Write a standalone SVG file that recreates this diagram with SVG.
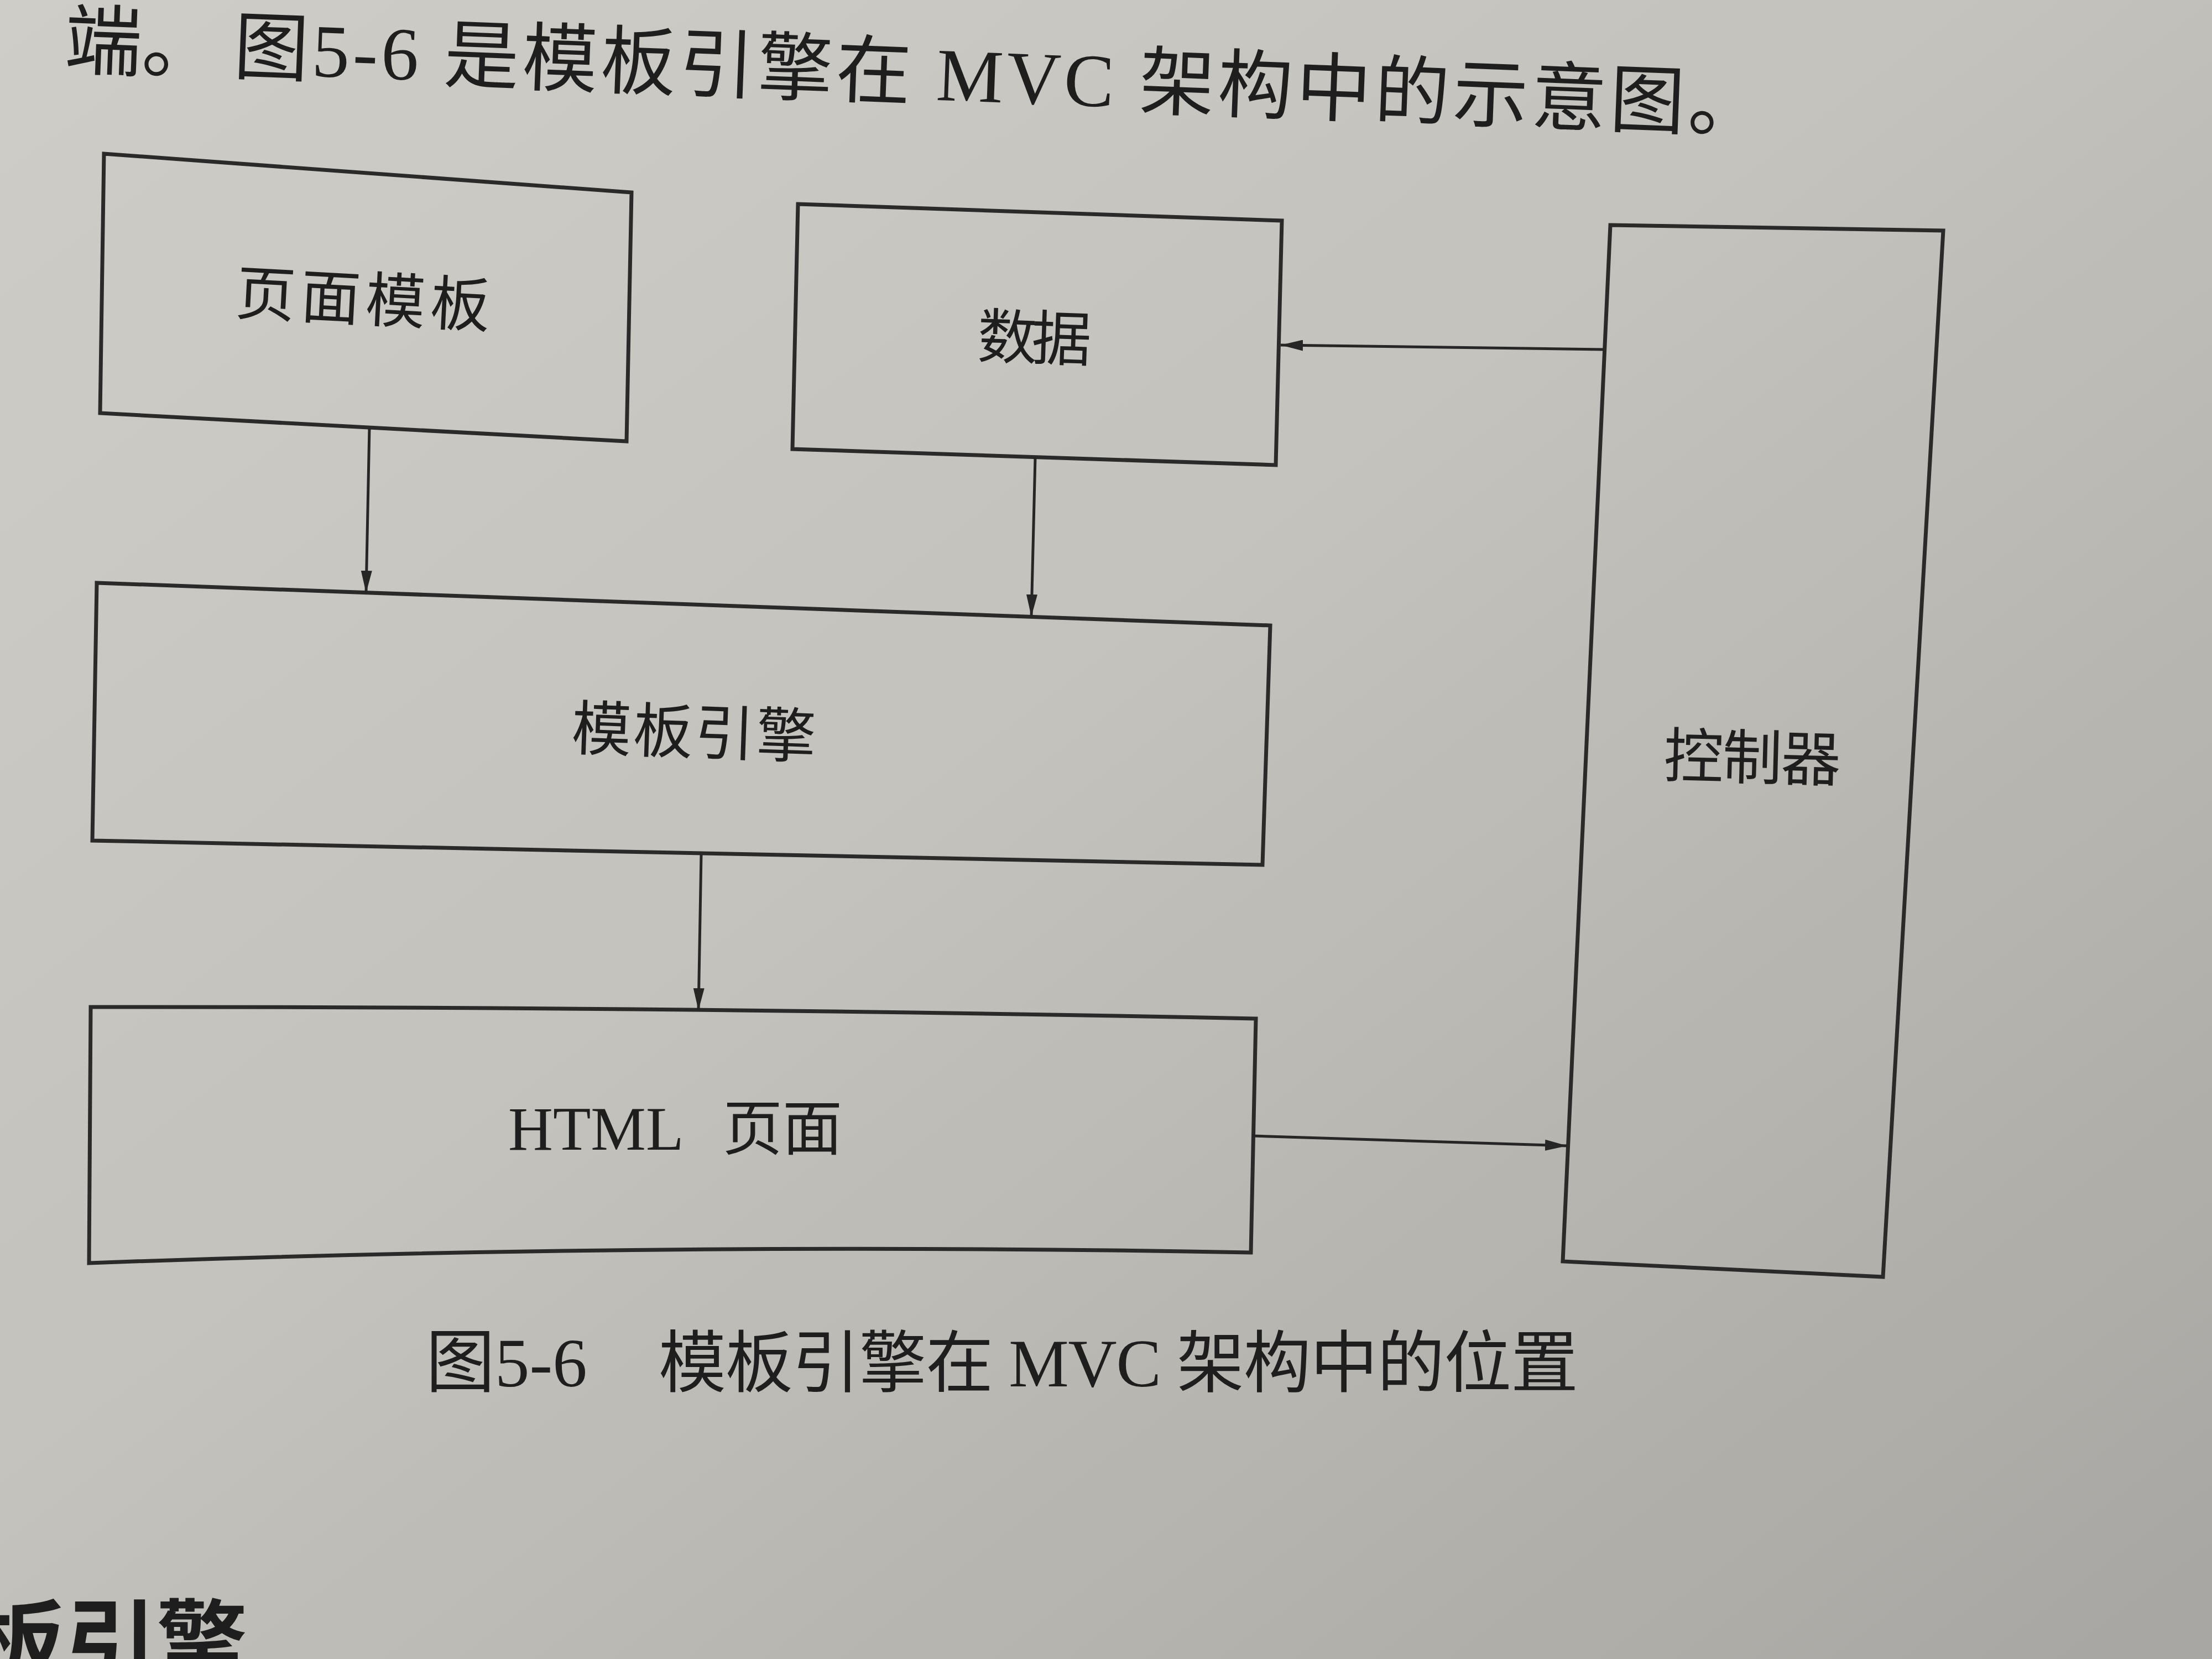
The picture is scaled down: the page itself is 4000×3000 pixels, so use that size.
<svg xmlns="http://www.w3.org/2000/svg" width="4000" height="3000" viewBox="0 0 4000 3000">
<defs>
<linearGradient id="paper" x1="0" y1="0" x2="1" y2="1">
<stop offset="0" stop-color="#cfcdc8"/>
<stop offset="0.45" stop-color="#c4c2bd"/>
<stop offset="1" stop-color="#a8a6a2"/>
</linearGradient>
<marker id="arrow" markerUnits="userSpaceOnUse" markerWidth="40" markerHeight="20" refX="40" refY="10" orient="auto">
<path d="M0,0 L40,10 L0,20 Z" fill="#262626"/>
</marker>
<style>
.box{fill:none;stroke:#2a2a2a;stroke-width:7;stroke-linejoin:miter}
.conn{fill:none;stroke:#262626;stroke-width:5;marker-end:url(#arrow)}
.lbl{font-family:"Noto Sans CJK SC","Liberation Sans",sans-serif;font-size:108px;fill:#1e1e1e;text-anchor:middle;dominant-baseline:central}
.ser{font-family:"Liberation Serif","Noto Sans CJK SC",serif;fill:#1e1e1e}
</style>
</defs>
<rect x="0" y="0" width="4000" height="3000" fill="url(#paper)"/>

<g id="page-text">
<text class="ser" x="395" y="134" font-size="140" text-anchor="end" transform="rotate(2.2 421 132)">端。</text>
<text class="ser" x="421" y="132" font-size="136" textLength="2768" lengthAdjust="spacing" transform="rotate(2.2 421 132)">图5-6 是模板引擎在 MVC 架构中的示意图。</text>
<text class="ser" x="448" y="3030" font-size="165" font-weight="bold" text-anchor="end" style="font-family:'Noto Sans CJK SC',sans-serif">模板引擎</text>
</g>

<g id="node-template">
<path class="box" d="M188,278 L1142,348 L1133,798 L181,747 Z"/>
<text class="lbl" x="657" y="533" textLength="460" lengthAdjust="spacing" transform="rotate(3 657 533)">页面模板</text>
</g>

<g id="node-data">
<path class="box" d="M1443,369 L2318,399 L2307,841 L1433,812 Z"/>
<text class="lbl" x="1871" y="603" textLength="206" lengthAdjust="spacing" transform="rotate(2 1871 603)">数据</text>
</g>

<g id="node-engine">
<path class="box" d="M175,1054 L2297,1131 L2283,1564 L167,1520 Z"/>
<text class="lbl" x="1255" y="1316" textLength="442" lengthAdjust="spacing" transform="rotate(2 1255 1316)">模板引擎</text>
</g>

<g id="node-html">
<path class="box" d="M164,1821 Q1215,1820 2271,1842 L2262,2265 Q1215,2245 161,2284 Z"/>
<text class="ser" x="919" y="2079" font-size="112">HTML</text>
<text class="ser" x="1307" y="2079" font-size="108" style="font-family:'Noto Sans CJK SC',sans-serif">页面</text>
</g>

<g id="node-controller">
<path class="box" d="M2912,407 L3514,417 L3405,2309 L2826,2281 Z"/>
<text class="lbl" x="3169" y="1362" textLength="320" lengthAdjust="spacing" transform="rotate(1.5 3169 1362)">控制器</text>
</g>

<g id="connectors">
<path class="conn" d="M668,774 L662,1072"/>
<path class="conn" d="M1872,827 L1865,1115"/>
<path class="conn" d="M1268,1545 L1263,1827"/>
<path class="conn" d="M2900,632 L2316,624"/>
<path class="conn" d="M2265,2054 L2834,2072"/>
</g>

<g id="caption">
<text class="ser" x="770" y="2507" font-size="125">图5-6</text>
<text class="ser" x="1191" y="2507" font-size="122" textLength="1663" lengthAdjust="spacing">模板引擎在 MVC 架构中的位置</text>
</g>
</svg>
